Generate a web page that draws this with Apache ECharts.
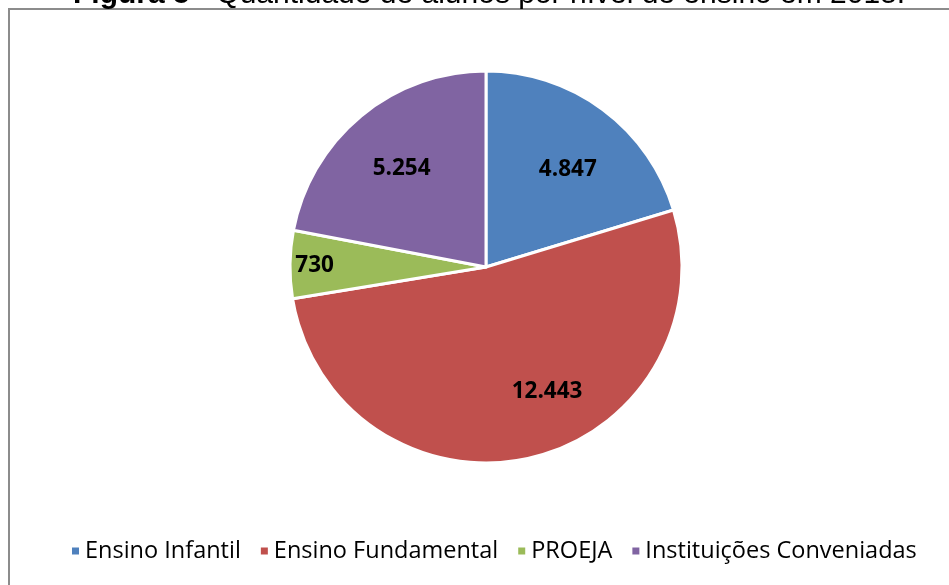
<!DOCTYPE html>
<html><head><meta charset="utf-8">
<script src="https://cdn.jsdelivr.net/npm/echarts@6/dist/echarts.min.js"></script>
<style>html,body{margin:0;padding:0;background:#fff}#c{width:949px;height:585px}</style>
</head><body><div id="c"></div>
<script>
// Categories and the numbers printed on the slices
const categories = ['Ensino Infantil', 'Ensino Fundamental', 'PROEJA', 'Instituições Conveniadas'];
const valueLabels = ['4.847', '12.443', '730', '5.254'];
// Slice sizes as drawn in the reference picture (PROEJA slice is drawn larger than its label)
const sliceValues = [4847, 12443, 1333, 5254];
const colors = ['#4F81BD', '#C0504D', '#9BBB59', '#8064A2'];
const labelOffsets = [[3, 9], [31, -4], [-39, 0], [0, 4]];

const chart = echarts.init(document.getElementById('c'), null, {renderer: 'canvas'});
const R = 196, cx = 486, cy = 267;
const mainData = categories.map((n, i) => ({name: n, value: sliceValues[i], itemStyle: {color: colors[i]}}));
const labelData = categories.map((n, i) => ({
  name: n, value: sliceValues[i],
  itemStyle: {color: 'rgba(0,0,0,0)', borderWidth: 0},
  label: {offset: labelOffsets[i]}
}));
chart.setOption({
  backgroundColor: '#ffffff',
  animation: false,
  graphic: [
    {type: 'rect', shape: {x: 9, y: 9, width: 1200, height: 1200}, style: {fill: 'none', stroke: '#8c8c8c', lineWidth: 2}, silent: true, z: -1},
    {type: 'text', x: 73, y: -20, silent: true, style: {
      text: '{b|Figura 5} - Quantidade de alunos por nível de ensino em 2015.',
      font: '30px "Liberation Sans"', fill: '#000',
      rich: {b: {fontWeight: 'bold', fontSize: 30, fontFamily: 'Liberation Sans', fill: '#000'}}
    }}
  ],
  legend: {
    bottom: 17, left: 65,
    itemWidth: 9, itemHeight: 9, itemGap: 18,
    icon: 'rect',
    textStyle: {fontFamily: 'Open Sans', fontSize: 23.5, color: '#000', padding: [0, 0, 0, 0]},
    data: categories
  },
  series: [
    {
      type: 'pie', center: [cx, cy], radius: [0, R], startAngle: 90, clockwise: true,
      silent: true, label: {show: false}, labelLine: {show: false},
      itemStyle: {borderColor: '#fff', borderWidth: 3},
      data: mainData
    },
    {
      type: 'pie', center: [cx, cy], radius: [0, R * 1.32], startAngle: 90, clockwise: true,
      silent: true, legendHoverLink: false, z: 5,
      label: {show: true, position: 'inside', fontFamily: 'Open Sans', fontWeight: 'bold', fontSize: 22.5, color: '#000',
        formatter: p => valueLabels[p.dataIndex]},
      labelLine: {show: false},
      data: labelData
    }
  ]
});
</script></body></html>
